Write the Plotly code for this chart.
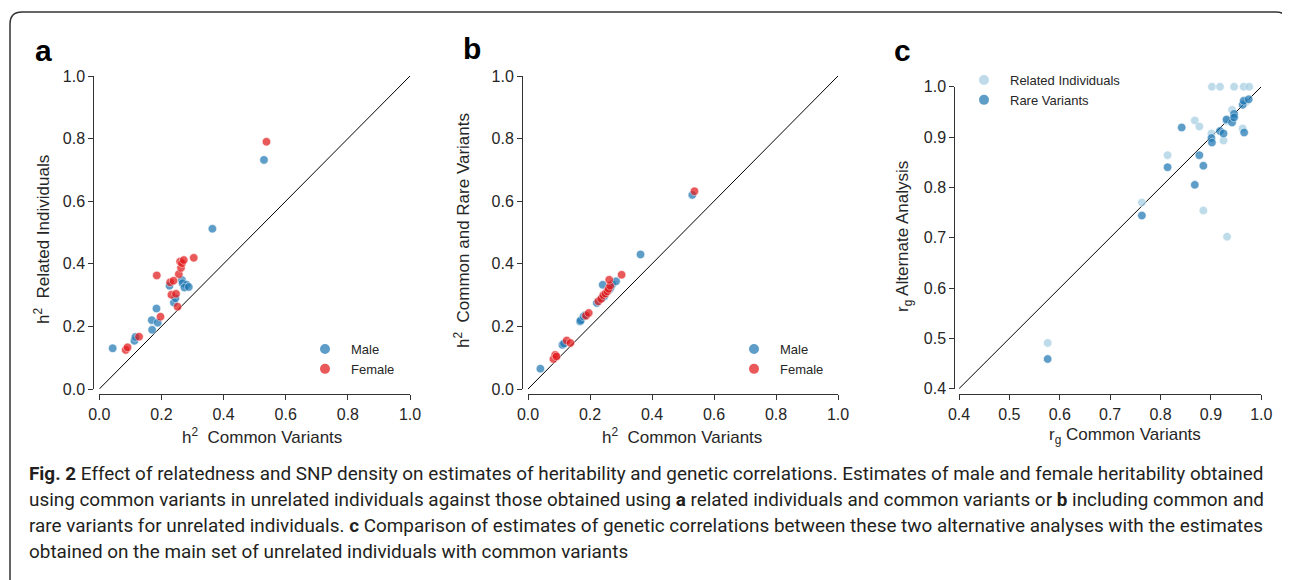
import plotly.graph_objects as go

# ---------------- data ----------------
# Panel a: h2 common variants (x) vs h2 related individuals (y)
a_male_x = [0.043, 0.113, 0.116, 0.170, 0.169, 0.188, 0.184, 0.240, 0.245, 0.226, 0.266, 0.268, 0.281, 0.274, 0.288, 0.364, 0.530]
a_male_y = [0.130, 0.154, 0.166, 0.189, 0.220, 0.212, 0.257, 0.276, 0.290, 0.330, 0.348, 0.338, 0.333, 0.324, 0.326, 0.512, 0.732]
a_female_x = [0.085, 0.091, 0.128, 0.197, 0.252, 0.232, 0.247, 0.228, 0.239, 0.185, 0.256, 0.263, 0.260, 0.266, 0.272, 0.304, 0.538]
a_female_y = [0.125, 0.133, 0.167, 0.231, 0.263, 0.301, 0.304, 0.341, 0.346, 0.363, 0.367, 0.387, 0.407, 0.402, 0.412, 0.419, 0.790]

# Panel b: h2 common variants (x) vs h2 common and rare variants (y)
b_male_x = [0.040, 0.111, 0.116, 0.168, 0.170, 0.179, 0.185, 0.222, 0.238, 0.241, 0.246, 0.263, 0.267, 0.272, 0.284, 0.363, 0.530]
b_male_y = [0.065, 0.141, 0.145, 0.216, 0.219, 0.232, 0.236, 0.275, 0.290, 0.333, 0.296, 0.318, 0.325, 0.335, 0.344, 0.430, 0.620]
b_female_x = [0.082, 0.088, 0.092, 0.125, 0.137, 0.187, 0.196, 0.227, 0.236, 0.243, 0.250, 0.256, 0.260, 0.265, 0.262, 0.302, 0.537]
b_female_y = [0.096, 0.109, 0.104, 0.155, 0.147, 0.234, 0.243, 0.280, 0.288, 0.300, 0.305, 0.312, 0.320, 0.330, 0.349, 0.365, 0.632]

# Panel c: rg common variants (x) vs rg alternate analysis (y)
c_related_x = [0.576, 0.763, 0.814, 0.868, 0.877, 0.885, 0.932, 0.902, 0.918, 0.946, 0.965, 0.976, 0.901, 0.925, 0.942, 0.963, 0.946, 0.931, 0.970]
c_related_y = [0.491, 0.770, 0.864, 0.933, 0.921, 0.754, 0.702, 1.000, 1.000, 1.000, 1.000, 1.000, 0.907, 0.893, 0.954, 0.917, 0.942, 0.932, 0.970]
c_rare_x = [0.576, 0.763, 0.814, 0.842, 0.868, 0.877, 0.885, 0.901, 0.902, 0.918, 0.925, 0.931, 0.942, 0.946, 0.946, 0.963, 0.965, 0.975, 0.966]
c_rare_y = [0.459, 0.744, 0.840, 0.919, 0.805, 0.864, 0.843, 0.898, 0.889, 0.912, 0.907, 0.935, 0.929, 0.946, 0.939, 0.964, 0.972, 0.975, 0.909]

ticks_h2 = [0.0, 0.2, 0.4, 0.6, 0.8, 1.0]
ticks_rg = [0.4, 0.5, 0.6, 0.7, 0.8, 0.9, 1.0]
diag_h2 = [0.0, 1.0]
diag_rg = [0.4, 1.0]

caption_lines = [
    "<b>Fig. 2</b> Effect of relatedness and SNP density on estimates of heritability and genetic correlations. Estimates of male and female heritability obtained",
    "using common variants in unrelated individuals against those obtained using <b>a</b> related individuals and common variants or <b>b</b> including common and",
    "rare variants for unrelated individuals. <b>c</b> Comparison of estimates of genetic correlations between these two alternative analyses with the estimates",
    "obtained on the main set of unrelated individuals with common variants",
]

# ---------------- styling ----------------
W, H = 1290, 580
OFF = 8  # page body margin
def PX(x):
    return (x - OFF) / W
def PY(y):
    return 1 - (y - OFF) / H

BLUE = "#1f78b4"
LIGHT = "#a6cee3"
RED = "#e31a1c"
FONT = "Liberation Sans, Arial, sans-serif"
AX = "#333333"

fig = go.Figure()

def add_pts(x, y, color, name, xa, ya, legend):
    fig.add_trace(go.Scatter(
        x=x, y=y, mode="markers", name=name, xaxis=xa, yaxis=ya, legend=legend,
        cliponaxis=False,
        marker=dict(size=8.5, color=color, opacity=0.72, line=dict(color="white", width=0.6)),
    ))

add_pts(a_male_x, a_male_y, BLUE, "Male", "x", "y", "legend")
add_pts(a_female_x, a_female_y, RED, "Female", "x", "y", "legend")
add_pts(b_male_x, b_male_y, BLUE, "Male", "x2", "y2", "legend2")
add_pts(b_female_x, b_female_y, RED, "Female", "x2", "y2", "legend2")
add_pts(c_related_x, c_related_y, LIGHT, "Related Individuals", "x3", "y3", "legend3")
add_pts(c_rare_x, c_rare_y, BLUE, "Rare Variants", "x3", "y3", "legend3")

# diagonal identity lines
for xr, yr, d in (("x", "y", diag_h2), ("x2", "y2", diag_h2), ("x3", "y3", diag_rg)):
    fig.add_shape(type="line", xref=xr, yref=yr, x0=d[0], y0=d[0], x1=d[1], y1=d[1],
                  line=dict(color="black", width=1), layer="below")

def axis(dom, rng, tv, pos):
    return dict(domain=dom, range=rng, anchor="free", position=pos, automargin=False,
                showgrid=False, zeroline=False, showline=True, linecolor=AX, linewidth=1,
                ticks="outside", ticklen=5, tickwidth=1, tickcolor=AX,
                tickvals=tv, ticktext=["%.1f" % v for v in tv],
                tickfont=dict(family=FONT, size=16, color="#262626"))

xpos = PY(394.3)
ydom_h2 = [PY(389), PY(76)]
ydom_rg = [PY(388.7), PY(86.7)]

leg = dict(xanchor="left", yanchor="top", bgcolor="rgba(0,0,0,0)", itemwidth=42,
           tracegroupgap=0, font=dict(size=13, family=FONT, color="#262626"), itemsizing="constant")

fig.update_layout(
    width=W, height=H, autosize=False,
    margin=dict(l=0, r=0, t=0, b=0, pad=0, autoexpand=False),
    paper_bgcolor="white", plot_bgcolor="rgba(0,0,0,0)",
    font=dict(family=FONT, color="#262626"),
    xaxis=axis([PX(99.3), PX(410)], [0, 1], ticks_h2, xpos),
    yaxis=axis(ydom_h2, [0, 1], ticks_h2, PX(93.3)),
    xaxis2=axis([PX(528), PX(838)], [0, 1], ticks_h2, xpos),
    yaxis2=axis(ydom_h2, [0, 1], ticks_h2, PX(522)),
    xaxis3=axis([PX(959), PX(1261.3)], [0.4, 1.0], ticks_rg, xpos),
    yaxis3=axis(ydom_rg, [0.4, 1.0], ticks_rg, PX(954.3)),
    legend=dict(x=PX(299), y=PY(334), **leg),
    legend2=dict(x=PX(728), y=PY(334), **leg),
    legend3=dict(x=PX(958), y=PY(65), **leg),
)

ann = []
# panel letters
for letter, x, y in (("a", 43, 50), ("b", 472, 48), ("c", 902, 50)):
    ann.append(dict(text="<b>%s</b>" % letter, x=PX(x), y=PY(y), xref="paper", yref="paper",
                    showarrow=False, font=dict(size=30, family=FONT, color="black"),
                    xanchor="center", yanchor="middle"))
# axis titles
for txt, x, y, ang in (
    ("h<sup>2</sup>  Common Variants", 262, 436, 0),
    ("h<sup>2</sup>  Related Individuals", 42, 240, -90),
    ("h<sup>2</sup>  Common Variants", 682, 436, 0),
    ("h<sup>2</sup>  Common and Rare Variants", 462, 231, -90),
    ("r<sub>g</sub> Common Variants", 1125, 436, 0),
    ("r<sub>g</sub> Alternate Analysis", 904, 237, -90),
):
    ann.append(dict(text=txt, x=PX(x), y=PY(y), xref="paper", yref="paper", showarrow=False,
                    textangle=ang, font=dict(size=17, family=FONT, color="#262626"),
                    xanchor="center", yanchor="middle"))
# caption
for i, line in enumerate(caption_lines):
    ann.append(dict(text=line, x=PX(27), y=PY(473 + 26.3 * i), xref="paper", yref="paper",
                    showarrow=False, xanchor="left", yanchor="middle", align="left",
                    font=dict(size=18.9, family="Roboto, sans-serif", color="#231f20")))
fig.update_layout(annotations=ann)

# rounded frame
L, T, R, B, r = 10, 12, 1288, 600, 12
path = ("M %f,%f L %f,%f Q %f,%f %f,%f L %f,%f Q %f,%f %f,%f L %f,%f" % (
    PX(L), PY(B), PX(L), PY(T + r), PX(L), PY(T), PX(L + r), PY(T),
    PX(R - r), PY(T), PX(R), PY(T), PX(R), PY(T + r), PX(R), PY(B)))
fig.add_shape(type="path", path=path, xref="paper", yref="paper",
              line=dict(color="#333333", width=1.5))

fig.write_html("out.html")
